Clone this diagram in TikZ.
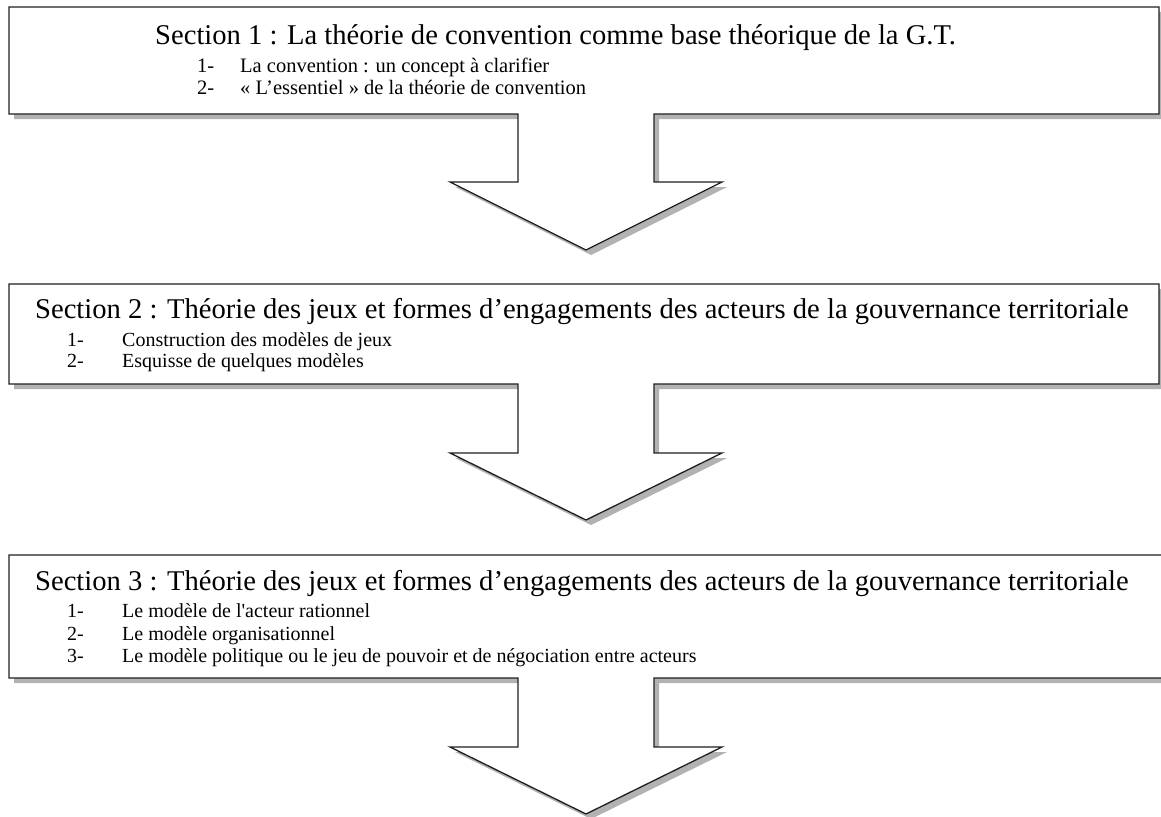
\documentclass[tikz,border=0pt]{standalone}
\usepackage{fontspec}
\newfontfamily\ser{Liberation Serif}
\begin{document}
\begin{tikzpicture}[x=1pt,y=-1pt,
  outline/.style={draw=black!88, line width=1.3pt, fill=white, line join=miter},
  shade/.style={fill=black!30},
  title/.style={font=\ser\fontsize{28.6}{32}\selectfont, anchor=base west, inner sep=0pt},
  item/.style={font=\ser\fontsize{20}{22}\selectfont, anchor=base west, inner sep=0pt},
  itemA/.style={font=\ser\fontsize{20.5}{23}\selectfont, anchor=base west, inner sep=0pt}]
\useasboundingbox (0,0) rectangle (1161,816);
% section boxes with their downward arrows (top/bottom/right/stem bottom/tip)
\foreach \t/\b/\r/\s/\p in {7/114/1159/182/250, 284/384/1159/453/520, 555/678/1165/747/814}{
  \begin{scope}[shift={(5,5)}]
    \fill[shade] (9,\t) -- (\r,\t) -- (\r,\b) -- (654,\b) -- (654,\s) -- (722,\s) -- (586,\p) -- (450,\s) -- (518,\s) -- (518,\b) -- (9,\b) -- cycle;
  \end{scope}
  \draw[outline] (9,\t) -- (\r,\t) -- (\r,\b) -- (654,\b) -- (654,\s) -- (722,\s) -- (586,\p) -- (450,\s) -- (518,\s) -- (518,\b) -- (9,\b) -- cycle;
}
% Section 1
\node[title] (t1) at (155,45) {Section 1 : La théorie de convention comme base théorique de la G.T.};
\node[itemA] (n11) at (197,72) {1-};
\node[itemA] (i11) at (240,72) {La convention : un concept à clarifier};
\node[itemA] (n12) at (197,94) {2-};
\node[itemA] (i12) at (240,94) {« L’essentiel » de la théorie de convention};
% Section 2
\node[title] (t2) at (35,318) {Section 2 : Théorie des jeux et formes d’engagements des acteurs de la gouvernance territoriale};
\node[item] (n21) at (67,346) {1-};
\node[item] (i21) at (122,346) {Construction des modèles de jeux};
\node[item] (n22) at (67,367) {2-};
\node[item] (i22) at (122,367) {Esquisse de quelques modèles};
% Section 3
\node[title] (t3) at (35,590) {Section 3 : Théorie des jeux et formes d’engagements des acteurs de la gouvernance territoriale};
\node[item] (n31) at (67,617) {1-};
\node[item] (i31) at (122,617) {Le modèle de l'acteur rationnel};
\node[item] (n32) at (67,640) {2-};
\node[item] (i32) at (122,640) {Le modèle organisationnel};
\node[item] (n33) at (67,662) {3-};
\node[item] (i33) at (122,662) {Le modèle politique ou le jeu de pouvoir et de négociation entre acteurs};
\end{tikzpicture}
\end{document}
